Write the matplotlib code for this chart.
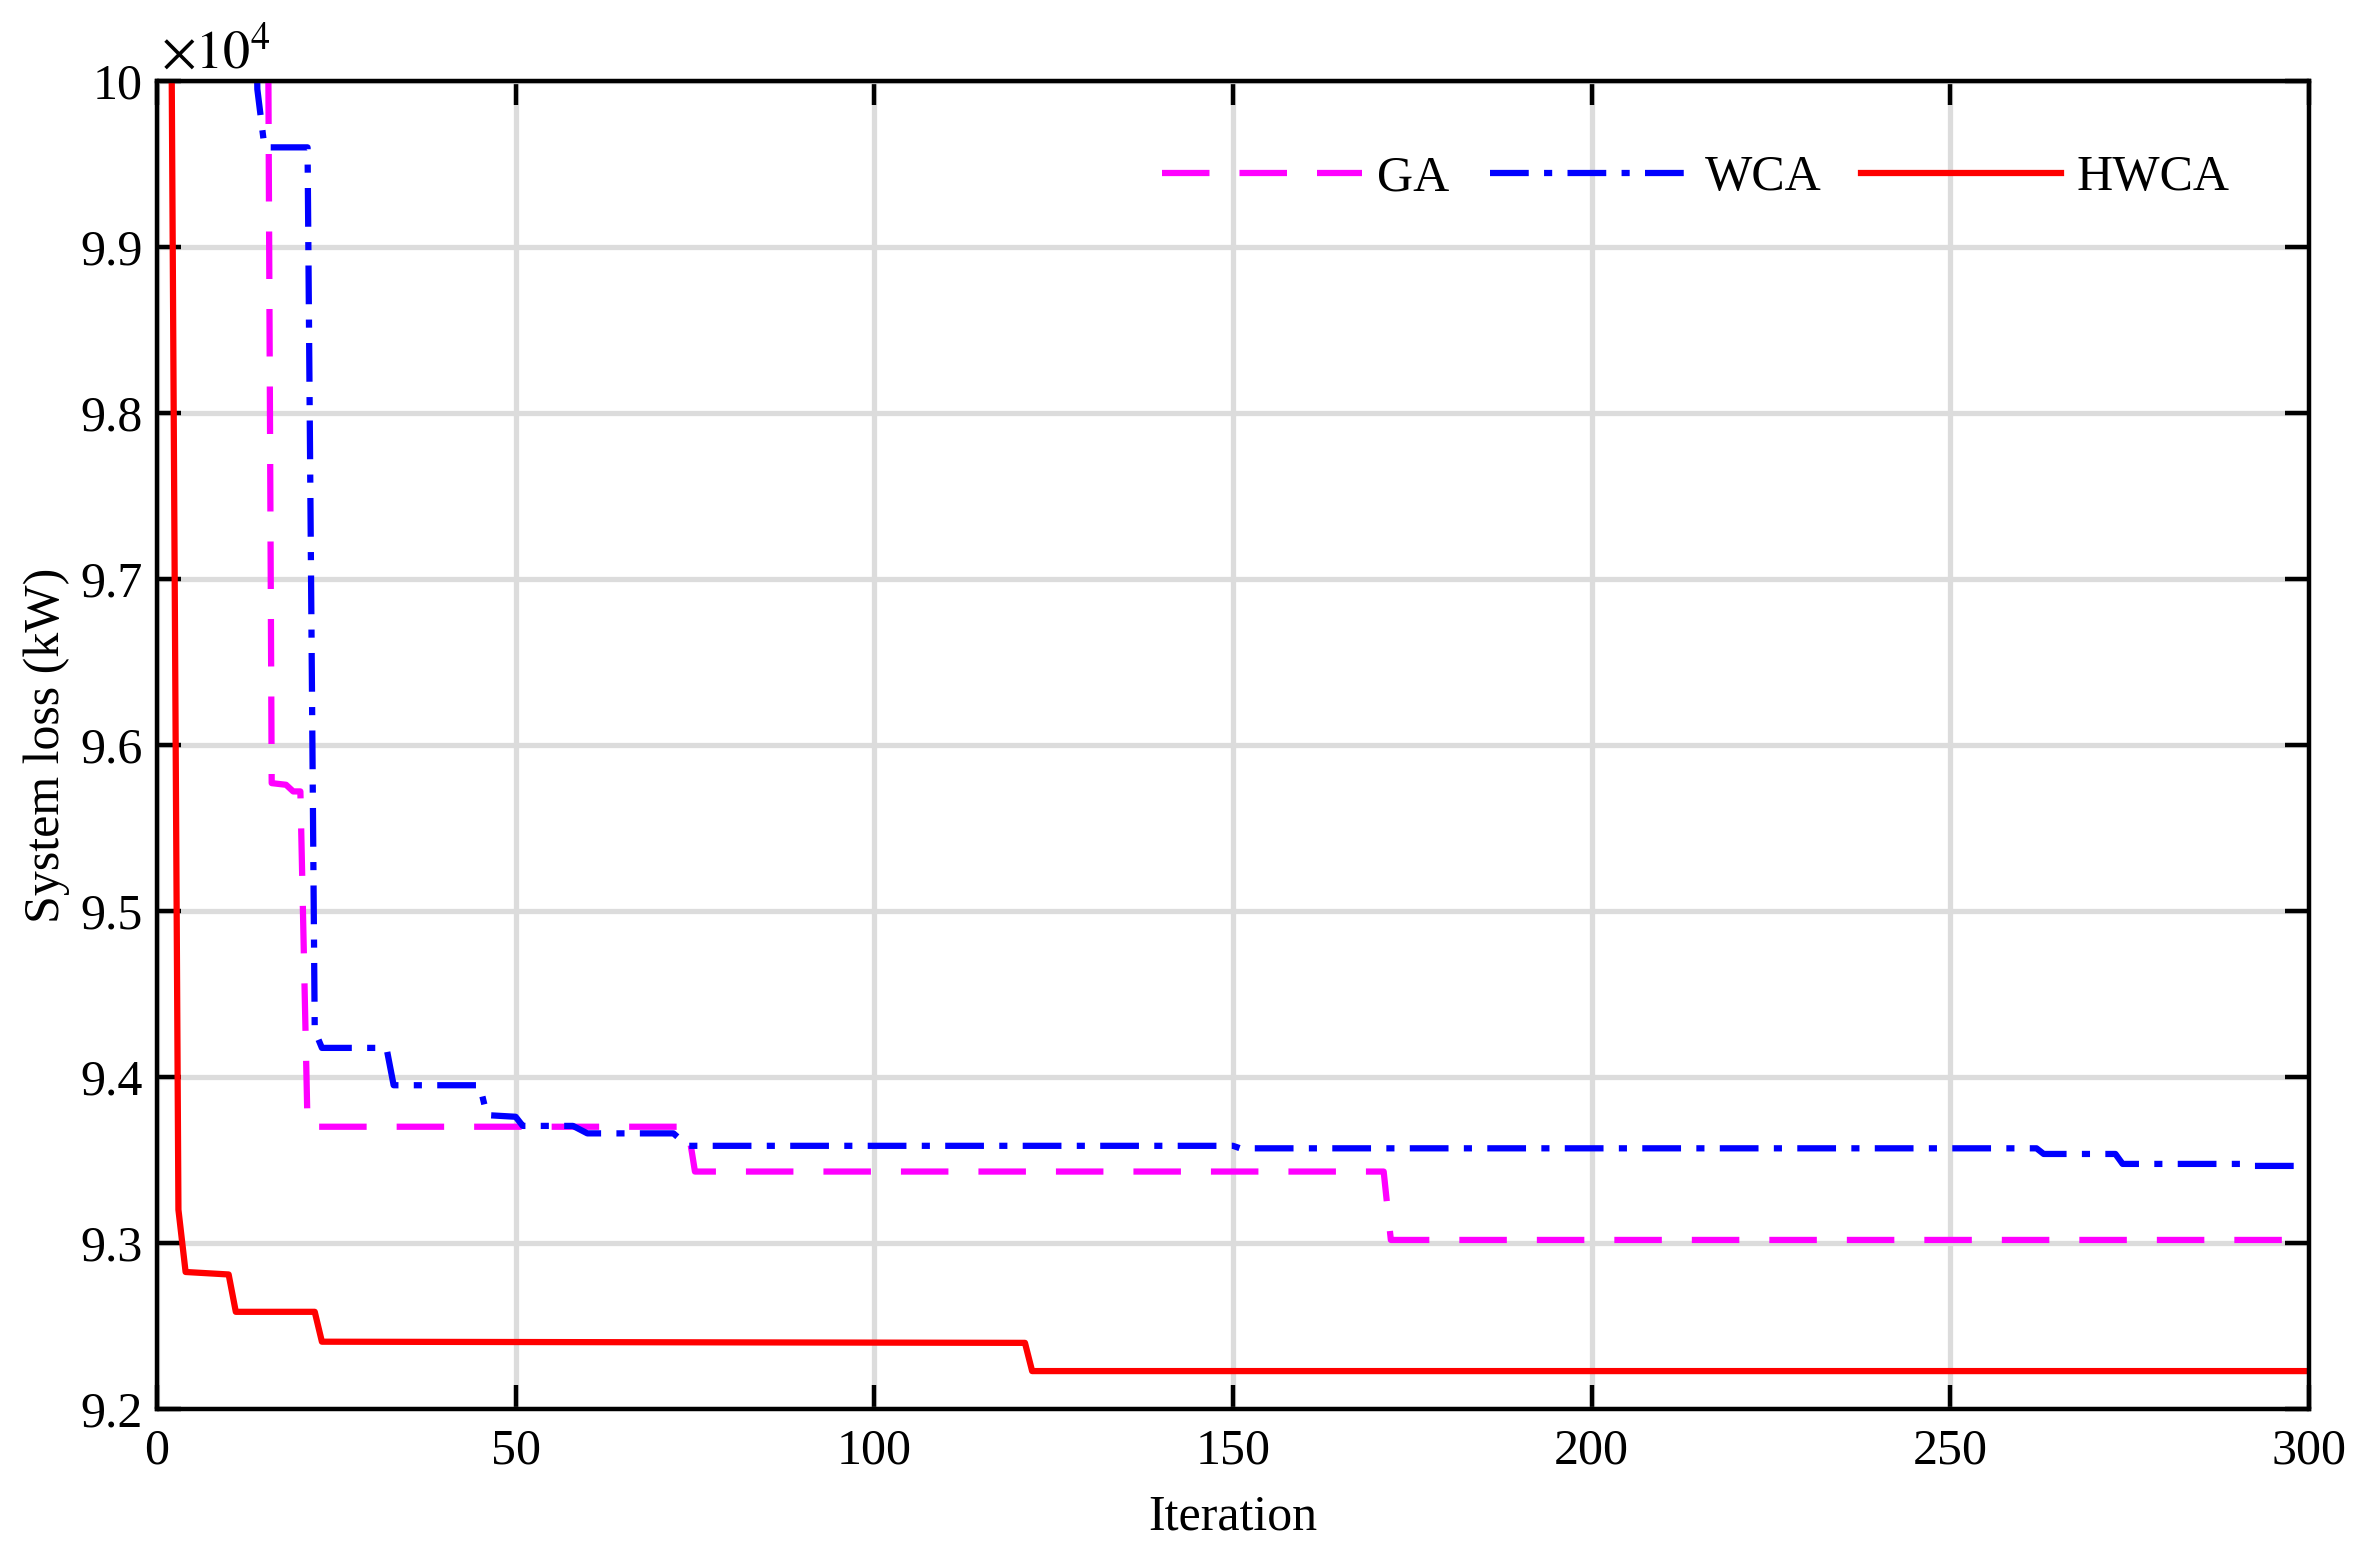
import matplotlib
matplotlib.use('Agg')
import matplotlib.pyplot as plt
from matplotlib.ticker import FuncFormatter, MultipleLocator

plt.rcParams['font.family'] = ['Liberation Serif', 'DejaVu Serif']
plt.rcParams['mathtext.fontset'] = 'stix'

# convergence curves, system loss in kW
ga_iter = [1, 15, 16, 18, 19, 20, 21, 74, 75, 171, 172, 300]
ga_loss = [109000, 105000, 95770, 95760, 95720, 95720, 93700, 93700, 93430, 93430, 93018, 93018]

wca_iter = [1, 13, 14, 15, 21, 22, 23, 32, 33, 45, 46, 50, 51, 58, 60, 72, 74,
            150, 151, 262, 263, 273, 274, 291, 292, 300]
wca_loss = [109000, 103000, 99950, 99600, 99600, 94280, 94175, 94175, 93950, 93950,
            93770, 93760, 93705, 93705, 93660, 93660, 93585, 93585, 93570, 93570,
            93536, 93536, 93476, 93476, 93464, 93464]

hwca_iter = [1, 2, 3, 4, 10, 11, 22, 23, 121, 122, 300]
hwca_loss = [110000, 100500, 93200, 92825, 92810, 92585, 92585, 92405, 92398, 92228, 92228]

fig = plt.figure(figsize=(23.63, 15.57), dpi=100)
ax = fig.add_axes([0.0664, 0.0951, 0.9108, 0.8529])

fs = 36
lw = 4.5
ax.plot(ga_iter, ga_loss, color='#ff00ff', lw=lw, ls=(0, (7.6, 4.8)),
        dash_capstyle='butt', label='GA')
ax.plot(wca_iter, wca_loss, color='#0000ff', lw=lw, ls=(0, (6.2, 2.45, 1.3, 2.45)),
        dash_capstyle='butt', label='WCA')
ax.plot(hwca_iter, hwca_loss, color='#ff0000', lw=lw, label='HWCA')

ax.set_xlim(0, 300)
ax.set_ylim(92000, 100000)
ax.xaxis.set_major_locator(MultipleLocator(50))
ax.yaxis.set_major_locator(MultipleLocator(1000))
ax.yaxis.set_major_formatter(FuncFormatter(lambda v, p: '%g' % round(v / 1e4, 2)))

ax.grid(True, color='#dcdcdc', lw=3.8)
ax.set_axisbelow(True)
for s in ax.spines.values():
    s.set_linewidth(3.2)
    s.set_zorder(5)
ax.tick_params(direction='in', length=17, width=3.2, top=True, right=True,
               labelsize=fs)
ax.tick_params(axis='x', pad=14)
ax.tick_params(axis='y', pad=10)

ax.set_xlabel('Iteration', fontsize=fs, labelpad=14)
ax.set_ylabel('System loss (kW)', fontsize=fs, labelpad=8)
ax.text(0.002, 1.009, r'$\times10^4$', transform=ax.transAxes, fontsize=39,
        ha='left', va='baseline')

ax.legend(loc='center right', bbox_to_anchor=(0.963, 0.927), ncol=3, frameon=False,
          fontsize=fs, handlelength=4.0, handletextpad=0.3, columnspacing=0.8,
          borderpad=0, borderaxespad=0)

fig.savefig('out.png', dpi=100)
